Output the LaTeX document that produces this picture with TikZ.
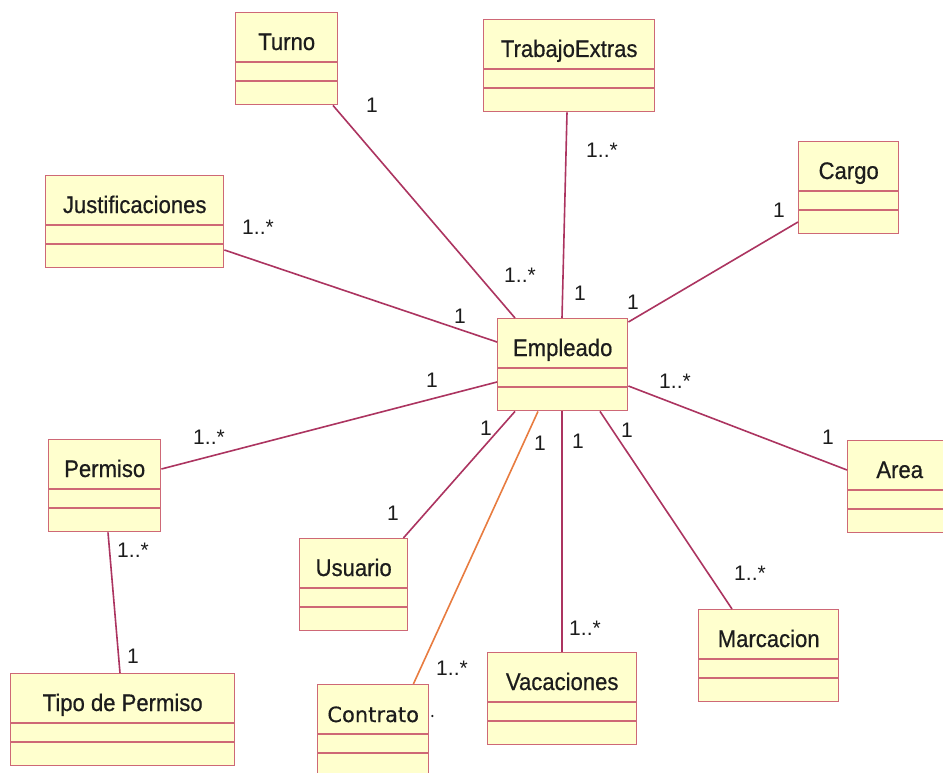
\documentclass[tikz,border=0pt]{standalone}
\usepackage{fontspec}
\setmainfont{Liberation Sans}
\newfontfamily\titlefont[FakeStretch=0.92,FakeBold=0.6]{Liberation Sans}
\newfontfamily\contfont[FakeBold=0.4]{DejaVu Sans}
\usetikzlibrary{calc}

\definecolor{clsfill}{RGB}{255,255,206}
\definecolor{clsedge}{RGB}{206,104,118}
\definecolor{assoc}{RGB}{172,52,96}
\definecolor{assocorange}{RGB}{232,124,64}
\definecolor{txt}{RGB}{28,28,28}

\tikzset{
  clsbox/.style={draw=clsedge, fill=clsfill, line width=1.4pt, inner sep=0pt,
                 minimum height=92pt, anchor=north west},
  clsdiv/.style={draw=clsedge, line width=1.4pt},
  clstitle/.style={font=\titlefont\fontsize{24}{28}\selectfont, text=txt,
                   anchor=base, inner sep=0pt},
  assocline/.style={draw=assoc, line width=1.6pt},
  assocalt/.style={draw=assocorange, line width=1.6pt},
  mult/.style={font=\fontsize{21}{24}\selectfont, text=txt, inner sep=0pt},
}

% UML class: name, left, top, width, title
\newcommand{\umlclass}[5]{%
  \node[clsbox, minimum width=#4pt] (#1) at (#2,#3) {};
  \draw[clsdiv] ([yshift=-50pt]#1.north west) -- ([yshift=-50pt]#1.north east);
  \draw[clsdiv] ([yshift=-69pt]#1.north west) -- ([yshift=-69pt]#1.north east);
  \node[clstitle] (#1-title) at ([yshift=-38pt]#1.north) {#5};
}

\begin{document}
\begin{tikzpicture}[x=1pt,y=-1pt]
\useasboundingbox (0,0) rectangle (943,773);
\fill[white] (0,0) rectangle (943,773);
\clip (0,0) rectangle (943,773);

% classes
\umlclass{turno}{235}{12}{102}{Turno}
\umlclass{trab}{483}{19}{171}{TrabajoExtras}
\umlclass{cargo}{798}{141}{100}{Cargo}
\umlclass{just}{45}{175}{178}{Justificaciones}
\umlclass{emp}{497}{318}{130}{Empleado}
\umlclass{perm}{48}{439}{112}{Permiso}
\umlclass{area}{847}{440}{104}{Area}
\umlclass{usu}{299}{538}{108}{Usuario}
\umlclass{mar}{698}{609}{140}{Marcacion}
\umlclass{vac}{487}{652}{149}{Vacaciones}
\umlclass{tipo}{10}{673}{224}{Tipo de Permiso}
\umlclass{con}{317}{684}{111}{\contfont\fontsize{21}{24}\selectfont Contrato}
\fill[txt] ([xshift=3pt,yshift=-32pt]con.north east) circle (1.2pt);

% associations
\draw[assocline] ([xshift=98pt]turno.south west) -- ([xshift=18pt]emp.north west);
\draw[assocline] ([xshift=84pt]trab.south west) -- ([xshift=65pt]emp.north west);
\draw[assocline] ([yshift=-81pt]cargo.north west) -- ([yshift=-4pt]emp.north east);
\draw[assocline] ([yshift=-75pt]just.north east) -- ([yshift=-24pt]emp.north west);
\draw[assocline] ([yshift=-30pt]perm.north east) -- ([yshift=-64pt]emp.north west);
\draw[assocline] ([xshift=60pt]perm.south west) -- ([xshift=110pt]tipo.north west);
\draw[assocline] ([xshift=18pt]emp.south west) -- ([xshift=-5pt]usu.north east);
\draw[assocalt]  ([xshift=41pt]emp.south west) -- ([xshift=-16pt]con.north east);
\draw[assocline] ([xshift=65pt]emp.south west) -- ([xshift=75pt]vac.north west);
\draw[assocline] ([xshift=103pt]emp.south west) -- ([xshift=34pt]mar.north west);
\draw[assocline] ([yshift=-68pt]emp.north east) -- ([yshift=-30pt]area.north west);

% multiplicities
\node[mult] (m-turno)  at (372,105) {1};
\node[mult] (m-trab)   at (602,150) {1..*};
\node[mult] (m-cargo)  at (779,210) {1};
\node[mult] (m-just)   at (258,227) {1..*};
\node[mult] (m-eturno) at (520,275) {1..*};
\node[mult] (m-etrab)  at (580,293) {1};
\node[mult] (m-ecargo) at (633,302) {1};
\node[mult] (m-ejust)  at (460,316) {1};
\node[mult] (m-eperm)  at (432,380) {1};
\node[mult] (m-earea)  at (675,381) {1..*};
\node[mult] (m-perm)   at (209,437) {1..*};
\node[mult] (m-area)   at (828,437) {1};
\node[mult] (m-eusu)   at (486,428) {1};
\node[mult] (m-econ)   at (540,443) {1};
\node[mult] (m-evac)   at (578,441) {1};
\node[mult] (m-emar)   at (627,430) {1};
\node[mult] (m-ptipo)  at (133,550) {1..*};
\node[mult] (m-usu)    at (393,513) {1};
\node[mult] (m-mar)    at (750,573) {1..*};
\node[mult] (m-vac)    at (585,628) {1..*};
\node[mult] (m-tipo)   at (133,656) {1};
\node[mult] (m-con)    at (452,668) {1..*};
\end{tikzpicture}
\end{document}
